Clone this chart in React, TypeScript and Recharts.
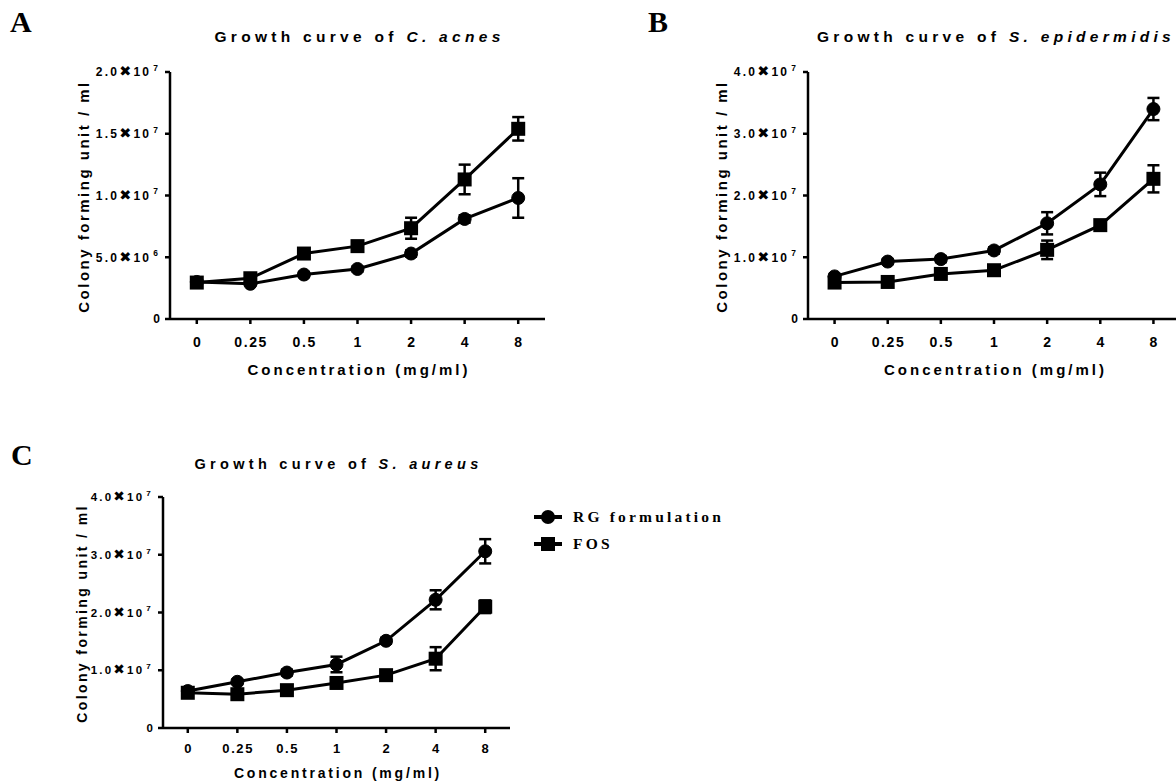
import React from "react";
import { LineChart, Line, XAxis, YAxis, ErrorBar, Legend } from "recharts";

const SANS = "'Liberation Sans', Arial, sans-serif";
const SERIF = "'Liberation Serif', 'Times New Roman', serif";

const concentrations = ["0", "0.25", "0.5", "1", "2", "4", "8"];

// A - C. acnes
const acnesRG = [3.0e6, 2.85e6, 3.6e6, 4.05e6, 5.3e6, 8.1e6, 9.8e6];
const acnesRGErr = [0.2e6, 0.15e6, 0.2e6, 0.2e6, 0.25e6, 0.3e6, 1.6e6];
const acnesFOS = [2.95e6, 3.3e6, 5.3e6, 5.9e6, 7.35e6, 11.3e6, 15.4e6];
const acnesFOSErr = [0.2e6, 0.2e6, 0.4e6, 0.4e6, 0.85e6, 1.2e6, 0.95e6];

// B - S. epidermidis
const epiRG = [6.9e6, 9.3e6, 9.7e6, 11.1e6, 15.5e6, 21.8e6, 34.0e6];
const epiRGErr = [0.4e6, 0.4e6, 0.5e6, 0.5e6, 1.8e6, 1.9e6, 1.8e6];
const epiFOS = [5.9e6, 6.0e6, 7.3e6, 7.9e6, 11.2e6, 15.2e6, 22.7e6];
const epiFOSErr = [0.4e6, 0.4e6, 0.5e6, 0.6e6, 1.5e6, 0.7e6, 2.2e6];

// C - S. aureus
const aureusRG = [6.4e6, 8.0e6, 9.6e6, 11.0e6, 15.1e6, 22.2e6, 30.6e6];
const aureusRGErr = [0.4e6, 0.4e6, 0.5e6, 1.35e6, 0.5e6, 1.65e6, 2.1e6];
const aureusFOS = [6.1e6, 5.85e6, 6.55e6, 7.8e6, 9.15e6, 12.0e6, 21.0e6];
const aureusFOSErr = [0.4e6, 0.4e6, 0.4e6, 0.5e6, 0.5e6, 2.0e6, 1.1e6];

const ticks2e7 = [0, 5e6, 1e7, 1.5e7, 2e7];
const ticks4e7 = [0, 1e7, 2e7, 3e7, 4e7];

const seriesMeta = [
  { key: "rg", name: "RG formulation", shape: "circle" },
  { key: "fos", name: "FOS", shape: "square" },
];

const build = (rg: number[], rgErr: number[], fos: number[], fosErr: number[]) =>
  concentrations.map((c, i) => ({ conc: c, rg: rg[i], rgErr: rgErr[i], fos: fos[i], fosErr: fosErr[i] }));

const dataA = build(acnesRG, acnesRGErr, acnesFOS, acnesFOSErr);
const dataB = build(epiRG, epiRGErr, epiFOS, epiFOSErr);
const dataC = build(aureusRG, aureusRGErr, aureusFOS, aureusFOSErr);

// "2.0✖10 7" style labels, as exported by the original software
function YTick({ x, y, payload, fs }: any) {
  const v = payload.value;
  const base = { fontFamily: SANS, fontWeight: 700, fontSize: fs, fill: "#000" };
  if (v === 0) {
    return <text x={x} y={y + fs * 0.36} textAnchor="end" {...base}>0</text>;
  }
  const exp = Math.floor(Math.log10(v) + 1e-9);
  const mant = (v / Math.pow(10, exp)).toFixed(1);
  return (
    <text x={x} y={y + fs * 0.36} textAnchor="end" letterSpacing={2.2} {...base}>
      {mant}
      <tspan fontFamily="'DejaVu Sans', sans-serif" fontSize={fs * 1.2}>✖</tspan>
      <tspan>10</tspan>
      <tspan dx={2} dy={-fs * 0.45} fontSize={fs * 0.7}>{exp}</tspan>
    </text>
  );
}

function XTick({ x, y, payload, fs, dy }: any) {
  return (
    <text x={x + 0.8} y={y + dy} textAnchor="middle" fontFamily={SANS} fontWeight={700} fontSize={fs} letterSpacing={1.6} fill="#000">
      {payload.value}
    </text>
  );
}

const squareDot = (p: any) => (
  <rect key={`sq-${p.index}`} x={p.cx - 7} y={p.cy - 7} width={14} height={14} fill="#000" />
);

function LegendContent() {
  return (
    <div style={{ display: "flex", flexDirection: "column" }}>
      {seriesMeta.map((s) => (
        <div key={s.key} style={{ display: "flex", alignItems: "center", height: 27 }}>
          <svg width={30} height={16}>
            <line x1={1} x2={29} y1={8} y2={8} stroke="#000" strokeWidth={4} />
            {s.shape === "circle" ? (
              <circle cx={15} cy={8} r={7} fill="#000" />
            ) : (
              <rect x={8} y={1} width={14} height={14} fill="#000" />
            )}
          </svg>
          <span style={{ marginLeft: 10, fontFamily: SERIF, fontWeight: 700, fontSize: 15.5, letterSpacing: 3.2, color: "#000", lineHeight: "16px" }}>
            {s.name}
          </span>
        </div>
      ))}
    </div>
  );
}

function Panel({ data, left, top, width, height, plot, yMax, yTicks, fs, yLabelDx, xLabelDy, xTickDy, legend }: any) {
  const plotW = plot.right - plot.left;
  const pad = plotW / 14;
  const cx = (plot.left + plot.right) / 2;
  const cy = (plot.top + plot.bottom) / 2 + 1;
  const lx = plot.left - yLabelDx;
  return (
    <div style={{ position: "absolute", left, top }}>
      <LineChart width={width} height={height} data={data} margin={{ top: plot.top, right: width - plot.right, bottom: 0, left: 0 }}>
        <XAxis
          dataKey="conc"
          height={height - plot.bottom}
          padding={{ left: pad, right: pad }}
          axisLine={{ stroke: "#000", strokeWidth: 2.5 }}
          tickLine={{ stroke: "#000", strokeWidth: 2.5 }}
          tickSize={5}
          tickMargin={2}
          interval={0}
          tick={(p: any) => <XTick {...p} fs={fs.xTick} dy={xTickDy} />}
          label={{
            content: () => (
              <text x={cx + 1.5} y={plot.bottom + xLabelDy} textAnchor="middle" fontFamily={SANS} fontWeight={700} fontSize={fs.xLabel} letterSpacing={fs.xLabelSp} fill="#000">
                Concentration (mg/ml)
              </text>
            ),
          }}
        />
        <YAxis
          width={plot.left}
          domain={[0, yMax]}
          ticks={yTicks}
          interval={0}
          axisLine={{ stroke: "#000", strokeWidth: 2.5 }}
          tickLine={{ stroke: "#000", strokeWidth: 2.5 }}
          tickSize={5}
          tickMargin={5}
          tick={(p: any) => <YTick {...p} fs={fs.yTick} />}
          label={{
            content: () => (
              <text x={lx} y={cy} transform={`rotate(-90 ${lx} ${cy})`} textAnchor="middle" fontFamily={SANS} fontWeight={700} fontSize={fs.yLabel} letterSpacing={fs.yLabelSp} fill="#000">
                Colony forming unit / ml
              </text>
            ),
          }}
        />
        <Line
          dataKey="rg"
          name="RG formulation"
          type="linear"
          stroke="#000"
          strokeWidth={3}
          dot={{ r: 6.5, fill: "#000", stroke: "#000", strokeWidth: 1 }}
          isAnimationActive={false}
        >
          <ErrorBar dataKey="rgErr" width={6} strokeWidth={2.5} stroke="#000" direction="y" />
        </Line>
        <Line
          dataKey="fos"
          name="FOS"
          type="linear"
          stroke="#000"
          strokeWidth={3}
          dot={squareDot}
          isAnimationActive={false}
        >
          <ErrorBar dataKey="fosErr" width={6} strokeWidth={2.5} stroke="#000" direction="y" />
        </Line>
        {legend && (
          <Legend
            layout="vertical"
            align="center"
            verticalAlign="middle"
            content={LegendContent}
            wrapperStyle={{ left: legend.left, top: legend.top, width: 230 }}
          />
        )}
      </LineChart>
    </div>
  );
}

const fsAB = { xTick: 14, yTick: 12, xLabel: 15, xLabelSp: 3, yLabel: 15, yLabelSp: 2.5 };
const fsC = { xTick: 13, yTick: 11.5, xLabel: 14, xLabelSp: 2.8, yLabel: 14, yLabelSp: 2.4 };

function Title({ x, y, size, plain, italic }: any) {
  return (
    <text x={x + 2} y={y} textAnchor="middle" fontFamily={SANS} fontWeight={700} fontSize={size} letterSpacing={4.3} fill="#000">
      {plain}
      <tspan fontStyle="italic">{italic}</tspan>
    </text>
  );
}

export default function App() {
  return (
    <div style={{ position: "absolute", left: 0, top: 0, width: 1176, height: 784, overflow: "hidden", background: "#fff" }}>
      <Panel
        data={dataA}
        left={0}
        top={0}
        width={560}
        height={400}
        plot={{ left: 170, top: 72, right: 545, bottom: 319 }}
        yMax={2e7}
        yTicks={ticks2e7}
        fs={fsAB}
        yLabelDx={81}
        xLabelDy={56}
        xTickDy={21}
      />
      <Panel
        data={dataB}
        left={600}
        top={0}
        width={600}
        height={400}
        plot={{ left: 208, top: 72, right: 580, bottom: 319 }}
        yMax={4e7}
        yTicks={ticks4e7}
        fs={fsAB}
        yLabelDx={81}
        xLabelDy={56}
        xTickDy={21}
      />
      <Panel
        data={dataC}
        left={0}
        top={400}
        width={760}
        height={384}
        plot={{ left: 163, top: 97, right: 510, bottom: 328 }}
        yMax={4e7}
        yTicks={ticks4e7}
        fs={fsC}
        yLabelDx={76}
        xLabelDy={50}
        xTickDy={18}
        legend={{ left: 533, top: 103.5 }}
      />
      <svg width={1176} height={784} style={{ position: "absolute", left: 0, top: 0, pointerEvents: "none" }}>
        <text x={10} y={32} fontFamily={SERIF} fontWeight={700} fontSize={30} fill="#000">A</text>
        <text x={648} y={32} fontFamily={SERIF} fontWeight={700} fontSize={30} fill="#000">B</text>
        <text x={11} y={465} fontFamily={SERIF} fontWeight={700} fontSize={30} fill="#000">C</text>
        <Title x={357.5} y={42} size={15.5} plain="Growth curve of " italic="C. acnes" />
        <Title x={994} y={42} size={15.5} plain="Growth curve of " italic="S. epidermidis" />
        <Title x={336.5} y={469} size={14.5} plain="Growth curve of " italic="S. aureus" />
      </svg>
    </div>
  );
}
